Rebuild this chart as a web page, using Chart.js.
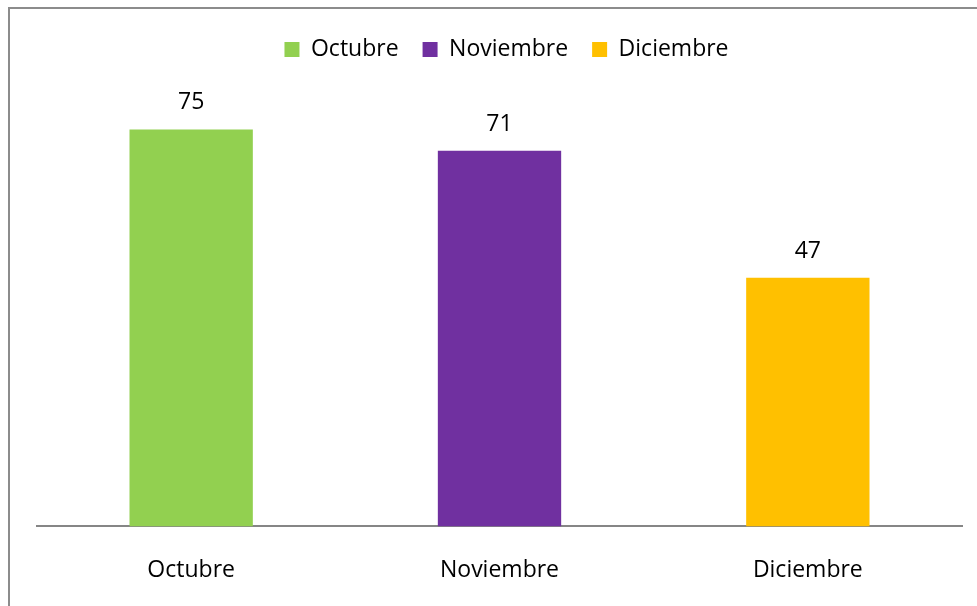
<!DOCTYPE html>
<html>
<head>
<meta charset="utf-8">
<script src="https://cdn.jsdelivr.net/npm/chart.js@4/dist/chart.umd.min.js"></script>
<style>
  html, body { margin: 0; padding: 0; background: #fff; overflow: hidden; }
  #frame {
    position: absolute; left: 8px; top: 7px; width: 1000px; height: 640px;
    border: 2px solid #8c8c8c; box-sizing: border-box;
  }
  #wrap { position: absolute; left: 0; top: 0; width: 977px; height: 606px; }
</style>
</head>
<body>
<div id="frame"></div>
<div id="wrap"><canvas id="chart"></canvas></div>
<script>
// Datos de la gráfica
const meses = ["Octubre", "Noviembre", "Diciembre"];
const valores = [75, 71, 47];
const colores = ["#92D050", "#7030A0", "#FFC000"];

const FONT = "'Open Sans', sans-serif";
const FONT_SIZE = 23;

// etiquetas de valor encima de cada barra
const valueLabels = {
  id: "valueLabels",
  afterDatasetsDraw(chart) {
    const ctx = chart.ctx;
    const meta = chart.getDatasetMeta(0);
    ctx.save();
    ctx.font = FONT_SIZE + "px " + FONT;
    ctx.fillStyle = "#000";
    ctx.textAlign = "center";
    ctx.textBaseline = "alphabetic";
    meta.data.forEach((bar, i) => {
      ctx.fillText(valores[i], bar.x, bar.y - 20);
    });
    ctx.restore();
  }
};

// espacio extra debajo de la leyenda y pequeño desplazamiento a la derecha
const legendGap = {
  id: "legendGap",
  beforeInit(chart) {
    const fit = chart.legend.fit;
    chart.legend.fit = function () {
      fit.bind(chart.legend)();
      this.height += 32;
    };
  },
  afterLayout(chart) {
    chart.legend.left += 7;
    chart.legend.right += 7;
  }
};

const ctx = document.getElementById("chart").getContext("2d");
new Chart(ctx, {
  type: "bar",
  data: {
    labels: meses,
    datasets: [{
      label: "Total",
      data: valores,
      backgroundColor: colores,
      borderWidth: 0,
      barPercentage: 0.4,
      categoryPercentage: 1
    }]
  },
  options: {
    responsive: true,
    maintainAspectRatio: false,
    animation: false,
    layout: { padding: { left: 37, right: 15, top: 14, bottom: 0 } },
    scales: {
      y: {
        display: false,
        min: 0,
        max: 80
      },
      x: {
        grid: { display: false },
        border: { display: true, color: "#868686", width: 2 },
        ticks: { color: "#000", font: { family: FONT, size: FONT_SIZE }, padding: 22 }
      }
    },
    plugins: {
      tooltip: { enabled: false },
      legend: {
        position: "top",
        labels: {
          color: "#000",
          font: { family: FONT, size: FONT_SIZE },
          boxWidth: 15,
          boxHeight: 15,
          padding: 24,
          generateLabels: () => meses.map((m, i) => ({
            text: m,
            fillStyle: colores[i],
            strokeStyle: colores[i],
            lineWidth: 0,
            hidden: false,
            index: i
          }))
        }
      }
    }
  },
  plugins: [valueLabels, legendGap]
});
</script>
</body>
</html>
